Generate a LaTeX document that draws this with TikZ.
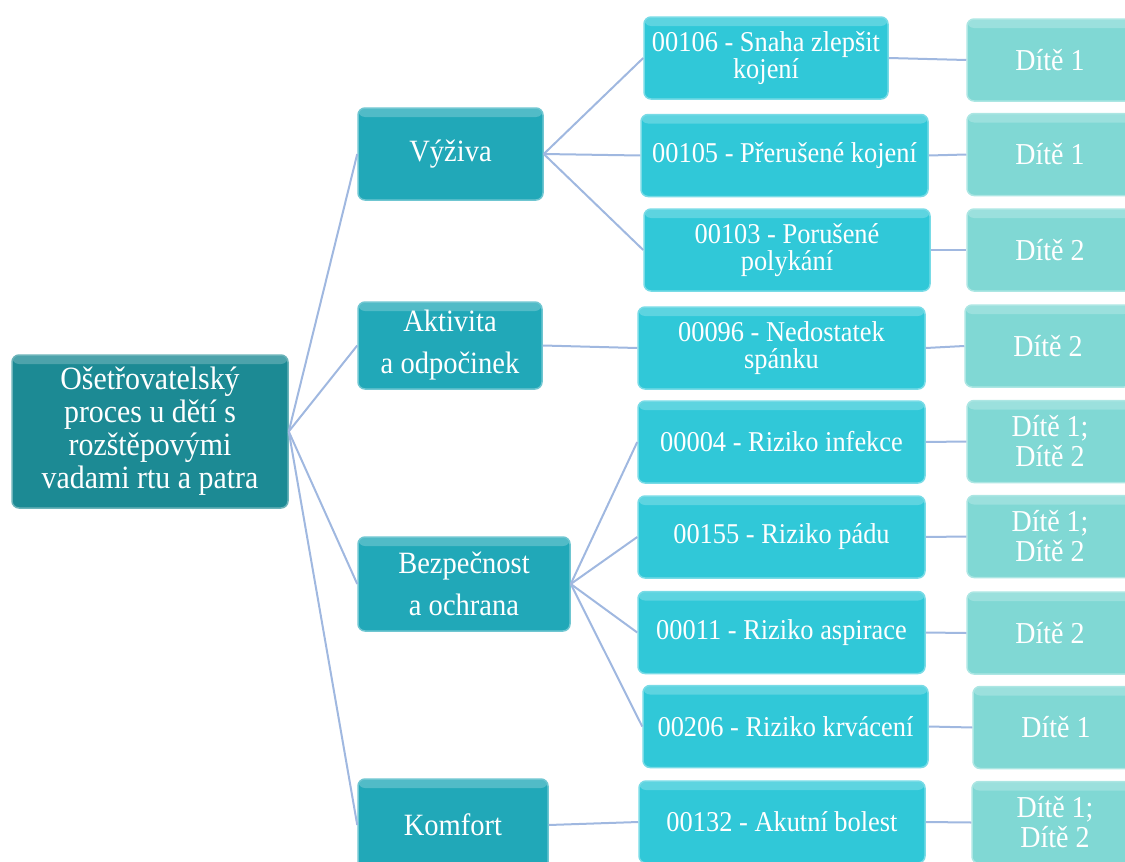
\documentclass[tikz,border=0pt]{standalone}
\usepackage{fontspec}
\setmainfont[FakeStretch=0.92]{Liberation Serif}
\definecolor{rootcol}{RGB}{28,138,148}
\definecolor{areacol}{RGB}{33,168,184}
\definecolor{diagcol}{RGB}{48,200,216}
\definecolor{kidcol}{RGB}{128,216,212}
\definecolor{linkcol}{RGB}{160,184,224}

\begin{document}
\begin{tikzpicture}[x=1pt,y=-1pt,
  box/.style={rounded corners=7pt, text=white, align=center, inner sep=0pt, line width=1.5pt,
    path picture={\fill[white,opacity=.22] (path picture bounding box.north west)
      rectangle ([yshift=-9pt]path picture bounding box.north east);}},
  rootbox/.style={box, fill=rootcol, draw=rootcol!65!white, minimum width=276pt, minimum height=153pt,
    font=\fontsize{32.5}{33}\selectfont},
  areabox/.style={box, fill=areacol, draw=areacol!65!white, minimum height=92pt,
    font=\fontsize{31}{42}\selectfont},
  diagbox/.style={box, fill=diagcol, draw=diagcol!65!white, minimum width=287pt, minimum height=82pt,
    font=\fontsize{28.7}{27}\selectfont},
  kidbox/.style={box, fill=kidcol, draw=kidcol!65!white, minimum width=166pt, minimum height=82pt,
    font=\fontsize{30.4}{30}\selectfont},
  link/.style={draw=linkcol, line width=2pt}]
\clip (0,0) rectangle (1125,862);

\node[rootbox] (proc) at (150,431.5) {Ošetřovatelský\\proces u dětí s\\rozštěpovými\\vadami rtu a patra};

\node[areabox, minimum width=185pt] (vyziva) at (450.5,154) {Výživa};
\node[areabox, minimum width=184pt, minimum height=87pt] (aktiv) at (450,345.5) {Aktivita\\a odpočinek};
\node[areabox, minimum width=212pt, minimum height=94pt] (bezp) at (464,584) {Bezpečnost\\a ochrana};
\node[areabox, minimum width=190pt] (komf) at (453,825) {Komfort};

\node[diagbox, minimum width=244pt] (d106) at (766,58) {00106 - Snaha zlepšit\\kojení};
\node[diagbox] (d105) at (784.5,155.5) {00105 - Přerušené kojení};
\node[diagbox, minimum width=286pt] (d103) at (787,250) {00103 - Porušené\\polykání};
\node[diagbox] (d096) at (781.5,348) {00096 - Nedostatek\\spánku};
\node[diagbox] (d004) at (781.5,442) {00004 - Riziko infekce};
\node[diagbox] (d155) at (781.5,537) {00155 - Riziko pádu};
\node[diagbox] (d011) at (781.5,632.5) {00011 - Riziko aspirace};
\node[diagbox, minimum width=285pt] (d206) at (785.5,726.5) {00206 - Riziko krvácení};
\node[diagbox, minimum width=286pt] (d132) at (782,822) {00132 - Akutní bolest};

\node[kidbox] (k106) at (1050,60) {Dítě 1};
\node[kidbox] (k105) at (1050,154.5) {Dítě 1};
\node[kidbox] (k103) at (1050,250) {Dítě 2};
\node[kidbox] (k096) at (1048,346) {Dítě 2};
\node[kidbox] (k004) at (1050,441.5) {Dítě 1;\\Dítě 2};
\node[kidbox] (k155) at (1050,536.5) {Dítě 1;\\Dítě 2};
\node[kidbox] (k011) at (1050,633) {Dítě 2};
\node[kidbox] (k206) at (1056,727.5) {Dítě 1};
\node[kidbox] (k132) at (1055,822.5) {Dítě 1;\\Dítě 2};

\foreach \a in {vyziva,aktiv,bezp,komf}
  \draw[link] (proc.east) -- (\a.west);
\foreach \d in {d106,d105,d103}
  \draw[link] (vyziva.east) -- (\d.west);
\draw[link] (aktiv.east) -- (d096.west);
\foreach \d in {d004,d155,d011,d206}
  \draw[link] (bezp.east) -- (\d.west);
\draw[link] (komf.east) -- (d132.west);
\foreach \d in {106,105,103,096,004,155,011,206,132}
  \draw[link] (d\d.east) -- (k\d.west);
\end{tikzpicture}
\end{document}
